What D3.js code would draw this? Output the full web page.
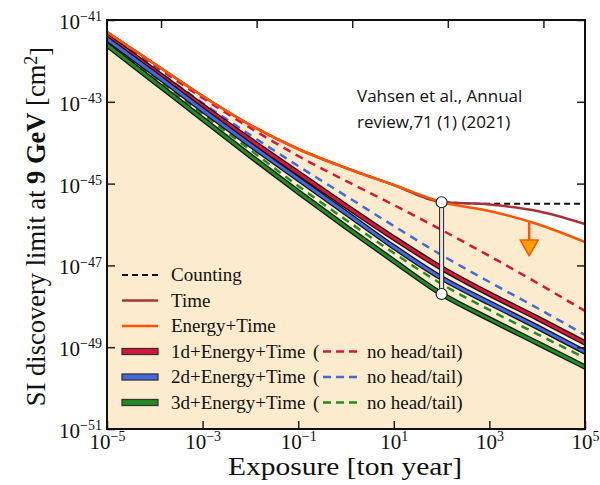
<!DOCTYPE html>
<html>
<head>
<meta charset="utf-8">
<script src="https://cdn.jsdelivr.net/npm/d3@7"></script>
<style>
  body { margin: 0; background: #fff; }
  svg { display: block; }
</style>
</head>
<body>
<svg id="svg" width="600" height="485"></svg>
<script>
// exposure grid [ton year]
var exposure = [1e-5, 1e-4, 1e-3, 1e-2, 1e-1, 1, 10, 100, 1e3, 1e4, 1e5];

// SI discovery limits [cm^2]
var counting   = [5.09e-42, 8.4e-43, 1.39e-43, 2.71e-44, 7.02e-45, 2.41e-45, 9.25e-46, 3.6e-46, 3.2e-46, 3.2e-46, 3.2e-46];
var timeOnly   = [5.09e-42, 8.4e-43, 1.39e-43, 2.71e-44, 7.02e-45, 2.41e-45, 9.25e-46, 3.55e-46, 3.1e-46, 2.14e-46, 1.03e-46];
var energyTime = [5.09e-42, 8.4e-43, 1.39e-43, 2.71e-44, 7.02e-45, 2.41e-45, 9.25e-46, 3.55e-46, 2.14e-46, 1.03e-46, 3.73e-47];
var d1         = [4.06e-42, 5.66e-43, 7.89e-44, 1.16e-44, 1.82e-45, 2.83e-46, 4.68e-47, 8.63e-48, 2.0e-48, 5.18e-49, 1.27e-49];
var d2         = [3.43e-42, 4.79e-43, 6.31e-44, 8.79e-45, 1.29e-45, 1.91e-46, 2.82e-47, 4.92e-48, 1.21e-48, 3.12e-49, 7.64e-50];
var d3v        = [2.45e-42, 3.05e-43, 3.79e-44, 4.73e-45, 6.24e-46, 8.69e-47, 1.28e-47, 2.0e-48, 4.89e-49, 1.27e-49, 3.28e-50];
var d1NoHT     = [4.55e-42, 7.5e-43, 1.24e-43, 2.29e-44, 4.73e-45, 1.16e-45, 3.0e-46, 7.34e-47, 1.7e-47, 3.72e-48, 7.67e-49];
var d2NoHT     = [4.3e-42, 6.34e-43, 9.35e-44, 1.54e-44, 2.69e-45, 4.98e-46, 9.19e-47, 1.79e-47, 3.93e-48, 9.08e-49, 1.99e-49];
var d3NoHT     = [3.07e-42, 4.04e-43, 5.04e-44, 6.64e-45, 8.73e-46, 1.29e-46, 2.01e-47, 3.51e-48, 8.13e-49, 2.1e-49, 5.45e-50];

// axis ticks
var xTicks = [1e-5, 1e-3, 1e-1, 1e1, 1e3, 1e5];
var xTopTicks = [1.35e-4, 1.35e-2, 1.35, 135, 1.35e4];
var yTicks = [1e-51, 1e-49, 1e-47, 1e-45, 1e-43, 1e-41];

// annotations
var markerX = 100, markerTop = 3.5e-46, markerBottom = 2.0e-48;
var arrowX = 6.8e3, arrowTop = 1.2e-46, arrowBase = 4.2e-47, arrowTip = 1.7e-47;

var legendLeft = ["Counting", "Time", "Energy+Time", "1d+Energy+Time", "2d+Energy+Time", "3d+Energy+Time"];

var margin = {top: 20, right: 15, bottom: 56, left: 107};
var width = 600 - margin.left - margin.right;
var height = 485 - margin.top - margin.bottom;

var svg = d3.select("#svg");
var g = svg.append("g").attr("transform", "translate(" + margin.left + "," + margin.top + ")");

var x = d3.scaleLog().domain([1e-5, 1e5]).range([0, width]);
var y = d3.scaleLog().domain([1e-51, 1e-41]).range([height, 0]);

g.append("clipPath").attr("id", "clip")
  .append("rect").attr("width", width).attr("height", height);

var plot = g.append("g").attr("clip-path", "url(#clip)");

var line = d3.line()
  .x(d => x(d[0]))
  .y(d => y(d[1]))
  .curve(d3.curveMonotoneX);

var pts = vals => exposure.map((e, i) => [e, vals[i]]);

// shaded region below best curve
plot.append("path")
  .datum(pts(energyTime))
  .attr("fill", "#fdebcd")
  .attr("d", d3.area().x(d => x(d[0])).y0(height).y1(d => y(d[1])).curve(d3.curveMonotoneX));

var serif = "'Liberation Serif', 'Times New Roman', serif";

// no head/tail dashed
[[d1NoHT, "#dc143c"], [d2NoHT, "#4169e1"], [d3NoHT, "#228b22"]].forEach(function(s) {
  plot.append("path").datum(pts(s[0]))
    .attr("fill", "none").attr("stroke", s[1]).attr("stroke-width", 2.5)
    .attr("stroke-dasharray", "8,6").attr("d", line);
});

// directional curves, black outline under colour
[[d1, "#dc143c"], [d2, "#4169e1"], [d3v, "#228b22"]].forEach(function(s) {
  plot.append("path").datum(pts(s[0]))
    .attr("fill", "none").attr("stroke", "#111").attr("stroke-width", 5.5).attr("d", line);
  plot.append("path").datum(pts(s[0]))
    .attr("fill", "none").attr("stroke", s[1]).attr("stroke-width", 3).attr("d", line);
});

plot.append("path").datum(pts(counting))
  .attr("fill", "none").attr("stroke", "#111").attr("stroke-width", 2)
  .attr("stroke-dasharray", "6,4").attr("d", line);
plot.append("path").datum(pts(timeOnly))
  .attr("fill", "none").attr("stroke", "#a83238").attr("stroke-width", 2.5).attr("d", line);
plot.append("path").datum(pts(energyTime))
  .attr("fill", "none").attr("stroke", "#ff5500").attr("stroke-width", 2.5).attr("d", line);

// marker bar between counting and 3d
plot.append("line")
  .attr("x1", x(markerX)).attr("x2", x(markerX))
  .attr("y1", y(markerTop)).attr("y2", y(markerBottom))
  .attr("stroke", "#222").attr("stroke-width", 5);
plot.append("line")
  .attr("x1", x(markerX)).attr("x2", x(markerX))
  .attr("y1", y(markerTop)).attr("y2", y(markerBottom))
  .attr("stroke", "#e8e8e8").attr("stroke-width", 3);
[markerTop, markerBottom].forEach(function(v) {
  plot.append("circle").attr("cx", x(markerX)).attr("cy", y(v)).attr("r", 5.5)
    .attr("fill", "#fff").attr("stroke", "#222").attr("stroke-width", 1.2);
});

// orange arrow
plot.append("line")
  .attr("x1", x(arrowX)).attr("x2", x(arrowX))
  .attr("y1", y(arrowTop)).attr("y2", y(arrowBase))
  .attr("stroke", "#ff5500").attr("stroke-width", 2.5);
plot.append("path")
  .attr("d", "M" + (x(arrowX) - 9) + "," + y(arrowBase) + "L" + (x(arrowX) + 9) + "," + y(arrowBase) +
             "L" + x(arrowX) + "," + y(arrowTip) + "Z")
  .attr("fill", "#ffa000").attr("stroke", "#ff5500").attr("stroke-width", 1.5).attr("stroke-linejoin", "round");

// axes
function supLabels(sel) {
  sel.selectAll(".tick text").each(function(d) {
    var t = d3.select(this);
    var e = Math.round(Math.log10(d));
    t.text("");
    t.append("tspan").text("10");
    t.append("tspan").attr("dy", "-0.55em").attr("font-size", "14px")
      .text((e < 0 ? "\u2212" : "") + Math.abs(e));
  });
}

var xAxis = g.append("g").attr("transform", "translate(0," + height + ")")
  .call(d3.axisBottom(x).tickValues(xTicks).tickSizeInner(-8).tickSizeOuter(0).tickPadding(5));
xAxis.call(supLabels);
xAxis.selectAll(".tick text").attr("font-family", serif).attr("font-size", "21px").attr("fill", "#111");

var yAxis = g.append("g")
  .call(d3.axisLeft(y).tickValues(yTicks).tickSizeInner(-8).tickSizeOuter(0).tickPadding(5));
yAxis.call(supLabels);
yAxis.selectAll(".tick text").attr("font-family", serif).attr("font-size", "21px").attr("fill", "#111")
  .attr("dy", "0.4em");

g.append("g").call(d3.axisTop(x).tickValues(xTopTicks).tickSizeInner(-8).tickSizeOuter(0).tickFormat(""));
g.append("g").attr("transform", "translate(" + width + ",0)")
  .call(d3.axisRight(y).tickValues(yTicks).tickSizeInner(-8).tickSizeOuter(0).tickFormat(""));

g.selectAll(".domain").remove();
g.selectAll(".tick line").attr("stroke", "#222").attr("stroke-width", 1.5);
g.append("rect").attr("width", width).attr("height", height)
  .attr("fill", "none").attr("stroke", "#111").attr("stroke-width", 2);

// axis titles
svg.append("text")
  .attr("x", 228).attr("y", 475)
  .attr("textLength", 234).attr("lengthAdjust", "spacingAndGlyphs")
  .attr("font-family", serif).attr("font-size", "26px").attr("fill", "#111")
  .text("Exposure [ton year]");

var yl = svg.append("text")
  .attr("transform", "translate(45," + (margin.top + height / 2 + 2) + ") rotate(-90)")
  .attr("text-anchor", "middle").attr("font-family", serif).attr("font-size", "26.5px").attr("fill", "#111");
yl.append("tspan").text("SI discovery limit at ");
yl.append("tspan").attr("font-weight", "bold").text("9 GeV");
yl.append("tspan").text(" [cm");
yl.append("tspan").attr("dy", "-0.45em").attr("font-size", "18px").text("2");
yl.append("tspan").attr("dy", "0.45em").text("]");

// citation
var cite = svg.append("text").attr("font-family", "'Open Sans', 'Liberation Sans', sans-serif")
  .attr("font-size", "17px").attr("fill", "#111");
cite.append("tspan").attr("x", 357).attr("y", 102).text("Vahsen et al., Annual");
cite.append("tspan").attr("x", 357).attr("y", 128).text("review,71 (1) (2021)");

// legend
var lg = svg.append("g");
var rowY = d3.range(legendLeft.length).map(i => 275 + i * 25.5);
var sx0 = 122, sx1 = 158;
lg.append("line").attr("x1", sx0).attr("x2", sx1).attr("y1", rowY[0]).attr("y2", rowY[0])
  .attr("stroke", "#111").attr("stroke-width", 2).attr("stroke-dasharray", "6,4");
lg.append("line").attr("x1", sx0).attr("x2", sx1).attr("y1", rowY[1]).attr("y2", rowY[1])
  .attr("stroke", "#a83238").attr("stroke-width", 2.5);
lg.append("line").attr("x1", sx0).attr("x2", sx1).attr("y1", rowY[2]).attr("y2", rowY[2])
  .attr("stroke", "#ff5500").attr("stroke-width", 2.5);
["#dc143c", "#4169e1", "#228b22"].forEach(function(c, i) {
  var yy = rowY[3 + i];
  lg.append("rect").attr("x", sx0).attr("y", yy - 3).attr("width", sx1 - sx0).attr("height", 6)
    .attr("fill", c).attr("stroke", "#333").attr("stroke-width", 1.3);
  lg.append("text").attr("x", 313).attr("y", yy + 6).attr("font-family", serif).attr("font-size", "19px")
    .attr("fill", "#111").text("(");
  lg.append("line").attr("x1", 323).attr("x2", 362).attr("y1", yy).attr("y2", yy)
    .attr("stroke", c).attr("stroke-width", 2.5).attr("stroke-dasharray", "8,5");
  lg.append("text").attr("x", 367).attr("y", yy + 6).attr("font-family", serif).attr("font-size", "19px")
    .attr("fill", "#111").text("no head/tail)");
});
legendLeft.forEach(function(t, i) {
  lg.append("text").attr("x", 171).attr("y", rowY[i] + 6).attr("font-family", serif).attr("font-size", "19px")
    .attr("fill", "#111").text(t);
});
</script>
</body>
</html>
